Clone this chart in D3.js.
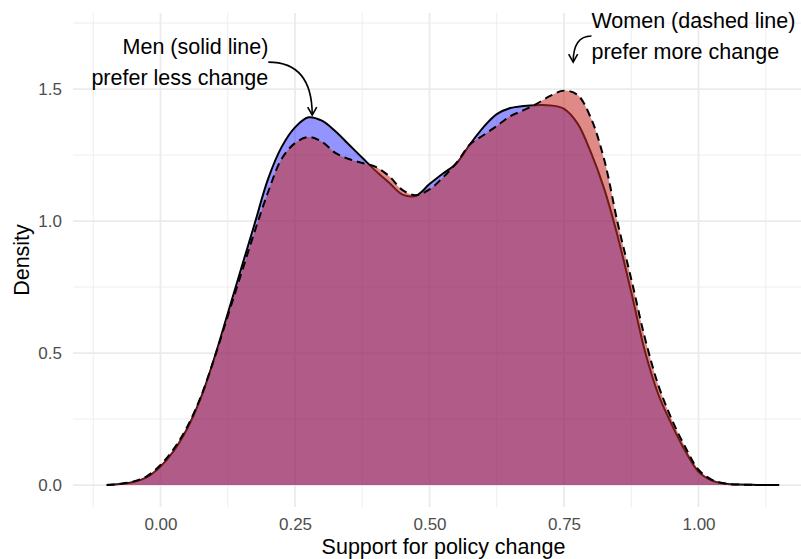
<!DOCTYPE html>
<html>
<head>
<meta charset="utf-8">
<script src="https://cdn.jsdelivr.net/npm/d3@7"></script>
<style>
  body { margin: 0; background: #fff; }
  svg { display: block; font-family: "Liberation Sans", Arial, sans-serif; }
  .tick text { fill: #4d4d4d; font-size: 17px; }
  .grid-major { stroke: #ebebeb; stroke-width: 1.8; }
  .grid-minor { stroke: #ebebeb; stroke-width: 0.9; }
  .axis-title { font-size: 21.5px; fill: #000; }
  .note { font-size: 21.5px; fill: #000; }
</style>
</head>
<body>
<svg width="801" height="559"></svg>
<script>
// density estimates
const support = [-0.1, -0.075, -0.05, -0.025, 0, 0.025, 0.05, 0.075, 0.1, 0.125, 0.15, 0.175, 0.2, 0.225, 0.25, 0.275, 0.3, 0.325, 0.35, 0.375, 0.4, 0.425, 0.45, 0.475, 0.5, 0.525, 0.55, 0.575, 0.6, 0.625, 0.65, 0.675, 0.7, 0.725, 0.75, 0.775, 0.8, 0.825, 0.85, 0.875, 0.9, 0.925, 0.95, 0.975, 1, 1.025, 1.05, 1.075, 1.1, 1.125, 1.15];
const menDensity = [0, 0.004, 0.012, 0.03, 0.07, 0.13, 0.215, 0.33, 0.48, 0.65, 0.82, 0.99, 1.16, 1.28, 1.355, 1.393, 1.38, 1.34, 1.29, 1.24, 1.19, 1.145, 1.1, 1.096, 1.14, 1.18, 1.218, 1.29, 1.355, 1.405, 1.428, 1.436, 1.439, 1.438, 1.425, 1.37, 1.26, 1.12, 0.94, 0.73, 0.51, 0.345, 0.23, 0.13, 0.05, 0.017, 0.005, 0.002, 0.001, 0, 0];
const womenDensity = [0, 0.005, 0.014, 0.034, 0.076, 0.138, 0.222, 0.335, 0.48, 0.64, 0.8, 0.96, 1.11, 1.235, 1.295, 1.318, 1.3, 1.258, 1.235, 1.22, 1.205, 1.17, 1.117, 1.098, 1.12, 1.165, 1.22, 1.29, 1.325, 1.36, 1.397, 1.42, 1.445, 1.475, 1.494, 1.478, 1.39, 1.23, 0.99, 0.78, 0.56, 0.38, 0.25, 0.145, 0.058, 0.02, 0.006, 0.002, 0.001, 0, 0];

const xMajor = [0, 0.25, 0.5, 0.75, 1];
const xMinor = [-0.125, 0.125, 0.375, 0.625, 0.875, 1.125];
const yMajor = [0, 0.5, 1, 1.5];
const yMinor = [0.25, 0.75, 1.25, 1.75];
const xLimits = [-0.1626, 1.2146];
const yLimits = [-0.083, 1.788];

// annotations: [x, y] in data units
const menLabel = { x: 0.2004, lines: ["Men (solid line)", "prefer less change"], y: [1.633, 1.515] };
const menArrow = { from: [0.2004, 1.602], bend: [0.282, 1.602], to: [0.282, 1.4015] };
const womenLabel = { x: 0.801, lines: ["Women (dashed line)", "prefer more change"], y: [1.731, 1.614] };
const womenArrow = { from: [0.801, 1.701], bend: [0.767, 1.701], to: [0.767, 1.602] };

const svg = d3.select("svg");
const panel = { left: 73, right: 814, top: 13, bottom: 507 };

const x = d3.scaleLinear().domain(xLimits).range([panel.left, panel.right]);
const y = d3.scaleLinear().domain(yLimits).range([panel.bottom, panel.top]);

// grid
svg.append("g").selectAll("line").data(yMinor).join("line").attr("class", "grid-minor")
  .attr("x1", panel.left).attr("x2", panel.right).attr("y1", d => y(d)).attr("y2", d => y(d));
svg.append("g").selectAll("line").data(xMinor).join("line").attr("class", "grid-minor")
  .attr("y1", panel.top).attr("y2", panel.bottom).attr("x1", d => x(d)).attr("x2", d => x(d));
svg.append("g").selectAll("line").data(yMajor).join("line").attr("class", "grid-major")
  .attr("x1", panel.left).attr("x2", panel.right).attr("y1", d => y(d)).attr("y2", d => y(d));
svg.append("g").selectAll("line").data(xMajor).join("line").attr("class", "grid-major")
  .attr("y1", panel.top).attr("y2", panel.bottom).attr("x1", d => x(d)).attr("x2", d => x(d));

// axes (labels only)
svg.append("g").attr("transform", "translate(" + panel.left + ",0)")
  .call(d3.axisLeft(y).tickValues(yMajor).tickFormat(d3.format(".1f")).tickSize(0).tickPadding(11));
svg.append("g").attr("transform", "translate(0," + panel.bottom + ")")
  .call(d3.axisBottom(x).tickValues(xMajor).tickFormat(d3.format(".2f")).tickSize(0).tickPadding(11));
svg.selectAll(".domain").remove();
svg.selectAll(".tick text").attr("font-family", null).attr("font-size", null);

// densities
const men = support.map((s, i) => ({ s: s, d: menDensity[i] }));
const women = support.map((s, i) => ({ s: s, d: womenDensity[i] }));
const curve = d3.curveCatmullRom.alpha(0.5);
const area = d3.area().x(d => x(d.s)).y0(y(0)).y1(d => y(Math.max(0, d.d))).curve(curve);
const line = d3.line().x(d => x(d.s)).y(d => y(d.d)).curve(curve);

svg.append("path").datum(men).attr("d", area).attr("fill", "#0000ff").attr("fill-opacity", 0.42);
svg.append("path").datum(men).attr("d", line).attr("fill", "none").attr("stroke", "#000").attr("stroke-width", 2);
svg.append("path").datum(women).attr("d", area).attr("fill", "#c82e2b").attr("fill-opacity", 0.56);
svg.append("path").datum(women).attr("d", line).attr("fill", "none").attr("stroke", "#000")
  .attr("stroke-width", 2).attr("stroke-dasharray", "8,5");

// titles
svg.append("text").attr("class", "axis-title").attr("text-anchor", "middle")
  .attr("x", (panel.left + panel.right) / 2).attr("y", 554).text("Support for policy change");
svg.append("text").attr("class", "axis-title").attr("text-anchor", "middle")
  .attr("transform", "translate(29," + (panel.top + panel.bottom) / 2 + ")rotate(-90)").text("Density");

// annotations
svg.append("defs").append("marker").attr("id", "head")
  .attr("viewBox", "-10 -6 12 12").attr("refX", 0).attr("refY", 0)
  .attr("markerWidth", 12).attr("markerHeight", 12).attr("markerUnits", "userSpaceOnUse")
  .attr("orient", "auto")
  .append("path").attr("d", "M-8,-4.5L0,0L-8,4.5").attr("fill", "none").attr("stroke", "#000").attr("stroke-width", 1.6);

function note(label, anchor) {
  svg.append("g").selectAll("text").data(label.lines).join("text").attr("class", "note")
    .attr("text-anchor", anchor).attr("x", x(label.x)).attr("y", (d, i) => y(label.y[i])).text(d => d);
}
function arrow(a) {
  const p = d3.path();
  p.moveTo(x(a.from[0]), y(a.from[1]));
  p.quadraticCurveTo(x(a.bend[0]), y(a.bend[1]), x(a.to[0]), y(a.to[1]));
  svg.append("path").attr("d", p.toString()).attr("fill", "none").attr("stroke", "#000")
    .attr("stroke-width", 1.6).attr("marker-end", "url(#head)");
}
note(menLabel, "end");
note(womenLabel, "start");
arrow(menArrow);
arrow(womenArrow);
</script>
</body>
</html>
